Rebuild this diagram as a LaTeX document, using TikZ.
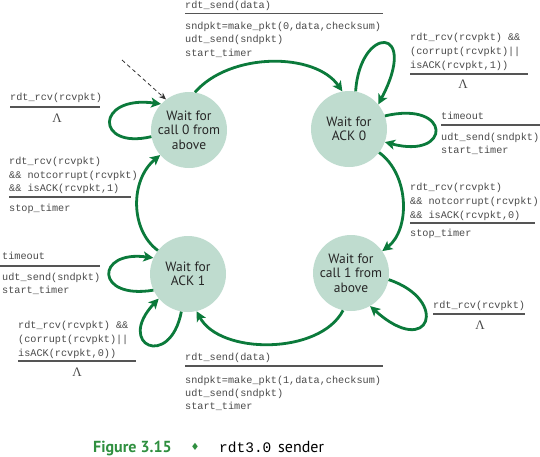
\documentclass[tikz,border=0pt]{standalone}
\usepackage{fontspec}
\setmonofont{Liberation Mono}
\newfontfamily\circfont{PT Sans}
\newfontfamily\lamfont{Liberation Serif}
\newfontfamily\symfont{DejaVu Sans}
\usetikzlibrary{arrows.meta}
\definecolor{stfill}{HTML}{BFDCCF}
\definecolor{arrgreen}{HTML}{0B7A3B}
\definecolor{txtgray}{HTML}{4A4A4A}
\definecolor{rulegray}{HTML}{555555}
\definecolor{capgreen}{HTML}{2F8F3F}
\tikzset{
  fsm/.style={circle, fill=stfill, minimum size=76pt, inner sep=0pt, align=center,
    font=\circfont\fontsize{13.5}{14.5}\selectfont, text=black!85},
  mono/.style={anchor=base west, inner sep=0pt, font=\ttfamily\fontsize{10.2}{13.5}\selectfont, text=txtgray},
  lam/.style={anchor=base, inner sep=0pt, font=\lamfont\fontsize{13}{14}\selectfont, text=txtgray},
  rul/.style={draw=rulegray, line width=1.1pt},
  trans/.style={draw=arrgreen, line width=2.8pt, -{Stealth[length=10pt,width=10pt,inset=2.5pt]}},
  initarr/.style={draw=black!80, line width=0.8pt, dash pattern=on 4pt off 3pt, -{Stealth[length=7pt,width=6pt]}},
}
\begin{document}
\begin{tikzpicture}[x=1pt,y=-1pt]
\useasboundingbox (0,0) rectangle (540,456);

% states
\node[fsm] (A) at (189,130) {Wait for\\call 0 from\\above};
\node[fsm] (B) at (349,129) {Wait for\\ACK 0};
\node[fsm] (C) at (188,274) {Wait for\\ACK 1};
\node[fsm] (D) at (351,273) {Wait for\\call 1 from\\above};

% initial arrow
\coordinate (ds) at (122,60);
\draw[initarr] (ds) -- (A.127);

% main transitions
\draw[trans] (A.81) .. controls (230,52) and (315,52) .. (B.100);
\draw[trans] (B.-38) .. controls (410,175) and (410,230) .. (D.35);
\draw[trans] (D.-102) .. controls (320,355) and (220,355) .. (C.-77);
\draw[trans] (C.142) .. controls (130,230) and (130,180) .. (A.-139);

% self loops
\draw[trans] (A.190) .. controls (95,150) and (95,95) .. (A.137);
\draw[trans] (B.80) .. controls (360,25) and (420,25) .. (B.40);
\draw[trans] (B.20) .. controls (452,100) and (452,160) .. (B.-20);
\draw[trans] (D.-10) .. controls (450,300) and (430,360) .. (D.-60);
\draw[trans] (C.205) .. controls (95,300) and (95,250) .. (C.155);
\draw[trans] (C.-100) .. controls (170,370) and (115,345) .. (C.-140);

% top label
\node[mono] (t1) at (185,8) {rdt\_send(data)};
\coordinate (t1a) at (185,13.5); \coordinate (t1b) at (383,13.5);
\draw[rul] (t1a) -- (t1b);
\node[mono] (t2) at (185,29.2) {sndpkt=make\_pkt(0,data,checksum)};
\node[mono] (t3) at (185,42.8) {udt\_send(sndpkt)};
\node[mono] (t4) at (185,56.2) {start\_timer};

% top-right loop label
\node[mono] (u1) at (410,40.5) {rdt\_rcv(rcvpkt) \&\&};
\node[mono] (u2) at (410,54.5) {(corrupt(rcvpkt)||};
\node[mono] (u3) at (410,68.5) {isACK(rcvpkt,1))};
\coordinate (u3a) at (410,74); \coordinate (u3b) at (528,74);
\draw[rul] (u3a) -- (u3b);
\node[lam] (u4) at (463,88) {Λ};

% right timeout label
\node[mono] (v1) at (441,119.5) {timeout};
\coordinate (v1a) at (441,125); \coordinate (v1b) at (540,125);
\draw[rul] (v1a) -- (v1b);
\node[mono] (v2) at (441,140.5) {udt\_send(sndpkt)};
\node[mono] (v3) at (441,153.5) {start\_timer};

% right middle label
\node[mono] (w1) at (410,190.5) {rdt\_rcv(rcvpkt)};
\node[mono] (w2) at (410,204.5) {\&\& notcorrupt(rcvpkt)};
\node[mono] (w3) at (410,218) {\&\& isACK(rcvpkt,0)};
\coordinate (w3a) at (410,223); \coordinate (w3b) at (535,223);
\draw[rul] (w3a) -- (w3b);
\node[mono] (w4) at (410,236.5) {stop\_timer};

% bottom-right loop label
\node[mono] (x1) at (433,308.5) {rdt\_rcv(rcvpkt)};
\coordinate (x1a) at (433,314); \coordinate (x1b) at (525,314);
\draw[rul] (x1a) -- (x1b);
\node[lam] (x2) at (480,329.5) {Λ};

% bottom label
\node[mono] (b1) at (185,360.5) {rdt\_send(data)};
\coordinate (b1a) at (185,366); \coordinate (b1b) at (383,366);
\draw[rul] (b1a) -- (b1b);
\node[mono] (b2) at (185,383) {sndpkt=make\_pkt(1,data,checksum)};
\node[mono] (b3) at (185,396.2) {udt\_send(sndpkt)};
\node[mono] (b4) at (185,409.5) {start\_timer};

% left-top loop label
\node[mono] (l1) at (10,100.5) {rdt\_rcv(rcvpkt)};
\coordinate (l1a) at (10,107); \coordinate (l1b) at (100,107);
\draw[rul] (l1a) -- (l1b);
\node[lam] (l2) at (57,122.5) {Λ};

% left middle label
\node[mono] (m1) at (9,164.5) {rdt\_rcv(rcvpkt)};
\node[mono] (m2) at (9,178.5) {\&\& notcorrupt(rcvpkt)};
\node[mono] (m3) at (9,191.5) {\&\& isACK(rcvpkt,1)};
\coordinate (m3a) at (9,197); \coordinate (m3b) at (131,197);
\draw[rul] (m3a) -- (m3b);
\node[mono] (m4) at (9,211.5) {stop\_timer};

% left timeout label
\node[mono] (n1) at (2,259.5) {timeout};
\coordinate (n1a) at (0,266); \coordinate (n1b) at (100,266);
\draw[rul] (n1a) -- (n1b);
\node[mono] (n2) at (2,280) {udt\_send(sndpkt)};
\node[mono] (n3) at (2,293.5) {start\_timer};

% left bottom loop label
\node[mono] (p1) at (18,328.5) {rdt\_rcv(rcvpkt) \&\&};
\node[mono] (p2) at (18,342.5) {(corrupt(rcvpkt)||};
\node[mono] (p3) at (18,356) {isACK(rcvpkt,0))};
\coordinate (p3a) at (18,361); \coordinate (p3b) at (136,361);
\draw[rul] (p3a) -- (p3b);
\node[lam] (p4) at (77,376.5) {Λ};

% caption
\node[anchor=base west, inner sep=0pt, font=\circfont\bfseries\fontsize{16}{18}\selectfont, text=capgreen] (cap1) at (93,452) {Figure 3.15};
\node[inner sep=0pt, font=\symfont\fontsize{10}{12}\selectfont, text=capgreen] (cap2) at (195,447) {♦};
\node[anchor=base west, inner sep=0pt, font=\ttfamily\fontsize{14.5}{16}\selectfont, text=black] (cap3) at (219,452) {rdt3.0};
\node[anchor=base west, inner sep=0pt, font=\circfont\fontsize{16}{18}\selectfont, text=black] (cap4) at (278,452) {sender};
\end{tikzpicture}
\end{document}
